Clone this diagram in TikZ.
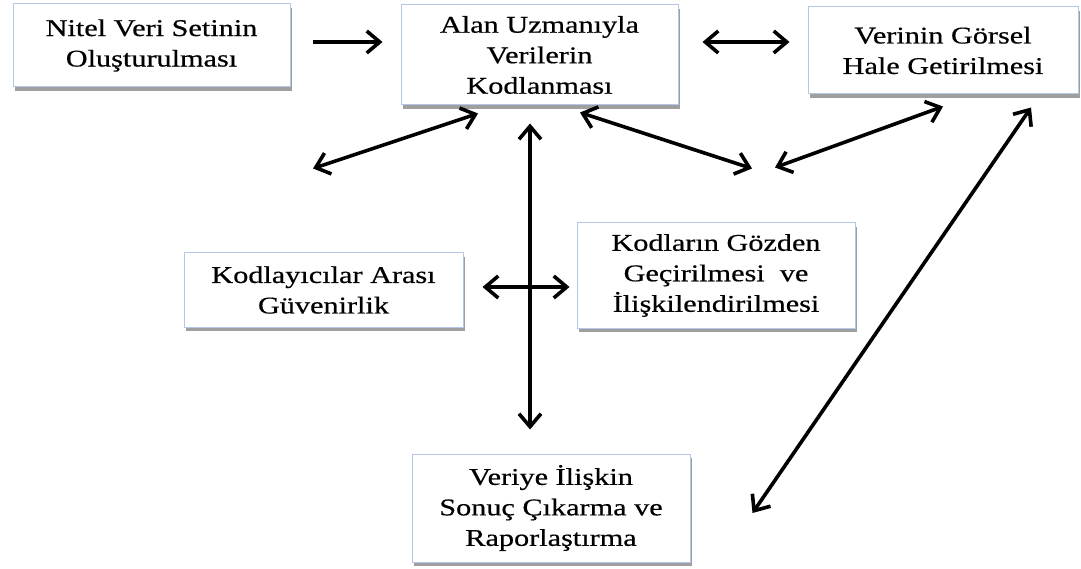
\documentclass[tikz,border=0pt]{standalone}
\usepackage{fontspec}
\setmainfont[FakeStretch=1.26,FakeBold=0.5]{Liberation Serif}
\usetikzlibrary{arrows.meta,shadows}
\definecolor{boxline}{HTML}{B4C7E7}
\begin{document}
\begin{tikzpicture}[x=1pt,y=-1pt,
  box/.style={draw=boxline, line width=1pt, fill=white, align=center, inner sep=0pt,
    font=\fontsize{24}{30.5}\selectfont,
    drop shadow={shadow xshift=1.5pt, shadow yshift=-4pt, fill=black!50, opacity=0.75}},
  barb/.tip={Straight Barb[length=13pt,width=22pt]},
  arr/.style={line width=3.6pt, -barb},
  darr/.style={line width=3.6pt, barb-barb}]
\useasboundingbox[fill=white] (0,0) rectangle (1081,569);

% process steps
\node[box, minimum width=277pt, minimum height=83pt]  (n1) at (151.5,45.5) {Nitel Veri Setinin\\Oluşturulması};
\node[box, minimum width=277pt, minimum height=100pt] (n2) at (539.5,55)   {Alan Uzmanıyla\\Verilerin\\Kodlanması};
\node[box, minimum width=270pt, minimum height=87pt]  (n3) at (943,50.5)   {Verinin Görsel\\Hale Getirilmesi};
\node[box, minimum width=279pt, minimum height=74pt]  (n4) at (323.5,290)  {Kodlayıcılar Arası\\Güvenirlik};
\node[box, minimum width=278pt, minimum height=105pt] (n5) at (716,275.5)  {Kodların Gözden\\Geçirilmesi\ \ ve\\İlişkilendirilmesi};
\node[box, minimum width=278pt, minimum height=108pt] (n6) at (551,508)    {Veriye İlişkin\\Sonuç Çıkarma ve\\Raporlaştırma};

% connectors
\draw[arr]  ([shift={(22,-3.5)}]n1.east) -- ([shift={(-18,-13)}]n2.west);
\draw[darr] ([shift={(24,-13)}]n2.east) -- ([shift={(-18,-8.5)}]n3.west);
\draw[darr] ([shift={(-226.5,63)}]n2.south) -- ([shift={(-61.5,8)}]n2.south);
\draw[darr] ([shift={(40.5,7)}]n2.south) -- ([shift={(212.5,63)}]n2.south);
\draw[darr] ([shift={(-168,73)}]n3.south) -- ([shift={(0,12)}]n3.south);
\draw[darr] ([shift={(-9.5,18)}]n2.south) -- ([shift={(-21,-24)}]n6.north);
\draw[darr] ([shift={(19,-3)}]n4.east) -- ([shift={(-7,11.5)}]n5.west);
\draw[darr] ([shift={(62,5)}]n6.east) -- ([shift={(88,13)}]n3.south);
\end{tikzpicture}
\end{document}
